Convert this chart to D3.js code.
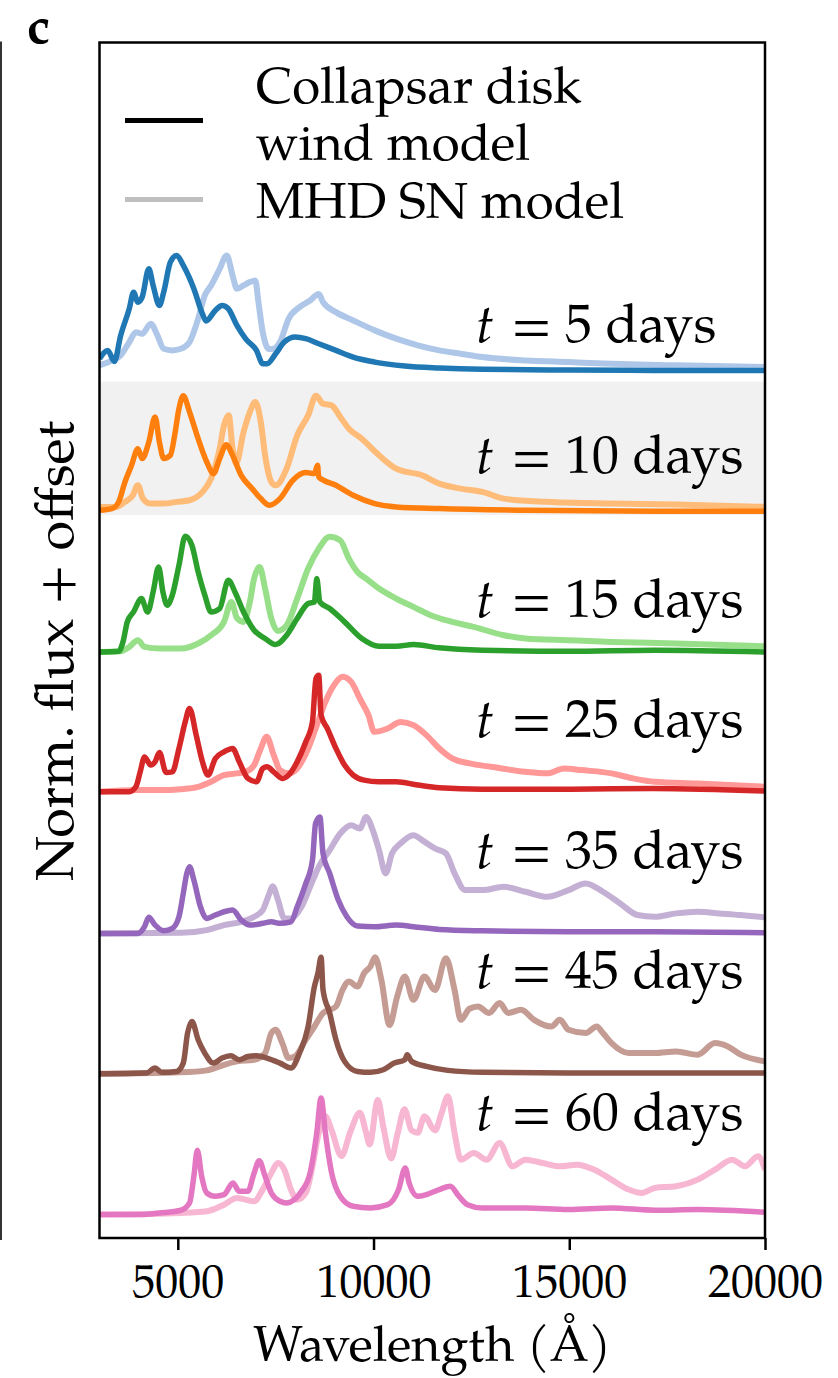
<!DOCTYPE html>
<html>
<head>
<meta charset="utf-8">
<script src="https://cdn.jsdelivr.net/npm/d3@7"></script>
<style>
  html, body { margin: 0; padding: 0; background: #fff; }
  svg { display: block; }
  text { font-family: "P052", "TeX Gyre Pagella", "Palatino Linotype", Palatino, "DejaVu Serif", serif; fill: #000; }
</style>
</head>
<body>
<svg id="chart" width="838" height="1378"></svg>
<script>
// Epochs (days after explosion) and the vertical offset applied to each pair of spectra
const epochs = [5, 10, 15, 25, 35, 45, 60];
const offsets = [7.2, 6.0, 4.8, 3.6, 2.4, 1.2, 0.0];
const highlightBand = [5.98, 7.12];

// Tick labels of the wavelength axis
const xTicks = [5000, 10000, 15000, 20000];

// Collapsar disk wind model spectra: [wavelength (Å), normalised flux]
const disk5 = [[3000,0.117],[3210,0.188],[3380,0.094],[3540,0.316],[3760,0.544],[3870,0.686],[3980,0.600],[4090,0.643],[4260,0.885],[4370,0.743],[4530,0.572],[4640,0.686],[4810,0.942],[4970,1.0],[5140,0.914],[5410,0.715],[5630,0.50],[5720,0.44],[5960,0.530],[6130,0.572],[6290,0.544],[6510,0.401],[6730,0.288],[7010,0.188],[7170,0.074],[7280,0.074],[7500,0.159],[7720,0.259],[8000,0.302],[8270,0.288],[8600,0.245],[9040,0.188],[9480,0.131],[10030,0.088],[10800,0.054],[11680,0.037],[12780,0.026],[14980,0.020],[17180,0.017],[20000,0.017]];
const disk10 = [[3000,0.021],[3320,0.036],[3490,0.093],[3650,0.263],[3820,0.406],[3980,0.548],[4090,0.463],[4260,0.605],[4420,0.819],[4530,0.605],[4640,0.463],[4810,0.491],[4920,0.662],[5030,0.890],[5140,1.0],[5300,0.861],[5520,0.633],[5740,0.434],[5910,0.335],[6070,0.463],[6240,0.582],[6400,0.491],[6620,0.320],[6900,0.206],[7120,0.121],[7340,0.064],[7610,0.121],[7940,0.278],[8270,0.343],[8490,0.335],[8570,0.406],[8600,0.306],[9040,0.235],[9480,0.149],[10030,0.078],[10580,0.050],[11680,0.036],[13880,0.021],[17180,0.013],[20000,0.013]];
const disk15 = [[3000,0.010],[3490,0.016],[3600,0.096],[3710,0.267],[3870,0.352],[4070,0.466],[4230,0.352],[4370,0.523],[4510,0.736],[4620,0.523],[4730,0.409],[4860,0.495],[5030,0.751],[5190,1.0],[5360,0.922],[5520,0.694],[5690,0.495],[5850,0.352],[6070,0.381],[6290,0.623],[6460,0.523],[6680,0.352],[6950,0.196],[7230,0.125],[7500,0.073],[7780,0.153],[8050,0.296],[8330,0.424],[8490,0.437],[8550,0.637],[8630,0.437],[8880,0.381],[9260,0.267],[9700,0.125],[10140,0.059],[10580,0.059],[11020,0.073],[11680,0.045],[12780,0.025],[14980,0.016],[17180,0.025],[20000,0.010]];
const disk25 = [[3000,0.015],[3760,0.015],[3930,0.057],[4040,0.185],[4150,0.313],[4310,0.243],[4420,0.271],[4530,0.351],[4700,0.180],[4860,0.185],[5030,0.385],[5190,0.613],[5300,0.727],[5470,0.499],[5630,0.271],[5770,0.157],[5960,0.300],[6180,0.356],[6400,0.385],[6570,0.271],[6790,0.129],[7010,0.100],[7170,0.214],[7280,0.228],[7450,0.185],[7680,0.129],[7830,0.157],[8050,0.271],[8270,0.442],[8440,0.613],[8530,0.983],[8600,1.011],[8660,0.670],[8820,0.556],[9040,0.385],[9260,0.243],[9480,0.157],[9760,0.114],[10140,0.100],[10580,0.100],[11130,0.072],[11680,0.049],[12780,0.037],[14980,0.037],[17180,0.043],[20000,0.021]];
const disk35 = [[3000,0.004],[3980,0.004],[4150,0.061],[4260,0.141],[4420,0.075],[4640,0.026],[4860,0.047],[5030,0.146],[5140,0.346],[5230,0.517],[5300,0.573],[5410,0.460],[5580,0.231],[5740,0.132],[5960,0.161],[6180,0.189],[6400,0.203],[6620,0.118],[6840,0.075],[7170,0.090],[7390,0.103],[7610,0.090],[7890,0.103],[8050,0.231],[8270,0.431],[8440,0.630],[8520,0.944],[8630,1.0],[8710,0.687],[8880,0.517],[9100,0.289],[9320,0.146],[9590,0.067],[10030,0.061],[10580,0.075],[11020,0.061],[11680,0.038],[12780,0.026],[14980,0.018],[17180,0.018],[20000,0.009]];
const disk45 = [[3000,0.004],[4200,0.010],[4420,0.053],[4590,0.016],[4970,0.024],[5140,0.095],[5250,0.352],[5360,0.451],[5520,0.295],[5690,0.181],[5910,0.095],[6130,0.138],[6350,0.158],[6570,0.124],[6790,0.152],[7010,0.158],[7280,0.138],[7610,0.095],[7890,0.053],[8110,0.181],[8330,0.408],[8490,0.750],[8580,0.864],[8660,1.0],[8710,0.722],[8880,0.523],[9040,0.295],[9260,0.110],[9590,0.024],[9920,0.016],[10250,0.038],[10530,0.095],[10800,0.124],[10860,0.167],[10970,0.110],[11350,0.067],[11900,0.033],[12780,0.016],[14980,0.010],[17180,0.010],[20000,0.010]];
const disk60 = [[3000,0.000],[4080,0.000],[4530,0.014],[5080,0.037],[5300,0.100],[5410,0.327],[5500,0.550],[5610,0.327],[5740,0.185],[5960,0.157],[6180,0.171],[6410,0.270],[6570,0.199],[6790,0.199],[6950,0.356],[7080,0.460],[7230,0.327],[7390,0.185],[7610,0.114],[7780,0.100],[8160,0.199],[8380,0.356],[8550,0.698],[8660,0.997],[8770,0.698],[8930,0.356],[9150,0.157],[9480,0.071],[9920,0.057],[10360,0.085],[10640,0.214],[10810,0.399],[10910,0.270],[11130,0.157],[11350,0.171],[11680,0.214],[11960,0.242],[12180,0.157],[12400,0.085],[12780,0.057],[13880,0.057],[14980,0.043],[16080,0.057],[17180,0.037],[18280,0.043],[20000,0.020]];

// MHD supernova model spectra: [wavelength (Å), normalised flux]
const mhd5 = [[3000,0.060],[3320,0.102],[3540,0.145],[3760,0.259],[3930,0.344],[4090,0.330],[4310,0.416],[4480,0.316],[4640,0.202],[4860,0.188],[5080,0.202],[5300,0.259],[5520,0.458],[5690,0.658],[5850,0.743],[6070,0.885],[6250,1.0],[6400,0.828],[6510,0.715],[6680,0.743],[6840,0.772],[6980,0.786],[7060,0.600],[7170,0.344],[7330,0.200],[7450,0.202],[7610,0.259],[7830,0.458],[8110,0.558],[8380,0.615],[8600,0.670],[8710,0.600],[9040,0.515],[9480,0.444],[10030,0.359],[10580,0.288],[11130,0.231],[11680,0.188],[12230,0.159],[12780,0.131],[13880,0.102],[14980,0.088],[16080,0.074],[17730,0.060],[20000,0.046]];
const mhd10 = [[3000,0.050],[3430,0.050],[3650,0.093],[3850,0.149],[3980,0.235],[4110,0.121],[4310,0.078],[4640,0.078],[4970,0.093],[5300,0.107],[5630,0.178],[5850,0.292],[6070,0.548],[6180,0.747],[6300,0.833],[6400,0.548],[6490,0.420],[6680,0.690],[6840,0.861],[6980,0.947],[7120,0.776],[7230,0.491],[7390,0.263],[7500,0.235],[7780,0.377],[8050,0.662],[8330,0.833],[8530,1.0],[8710,0.932],[8930,0.918],[9150,0.819],[9370,0.719],[9700,0.633],[10140,0.491],[10580,0.377],[11240,0.320],[11680,0.249],[12230,0.206],[12780,0.178],[13330,0.121],[14430,0.093],[16080,0.078],[17730,0.070],[20000,0.050]];
const mhd15 = [[3000,0.010],[3540,0.016],[3760,0.053],[3980,0.110],[4150,0.053],[4530,0.039],[5080,0.039],[5520,0.082],[5850,0.153],[6180,0.267],[6370,0.437],[6510,0.300],[6680,0.267],[6840,0.437],[6950,0.637],[7090,0.736],[7230,0.552],[7390,0.296],[7550,0.190],[7780,0.238],[8050,0.466],[8330,0.723],[8600,0.893],[8880,0.995],[9150,0.964],[9370,0.808],[9590,0.694],[9810,0.637],[10140,0.552],[10580,0.466],[11020,0.395],[11460,0.324],[12010,0.267],[12560,0.224],[13330,0.153],[13880,0.125],[14980,0.110],[16080,0.096],[17730,0.082],[20000,0.059]];
const mhd25 = [[3000,0.015],[3980,0.029],[4530,0.029],[5080,0.037],[5520,0.057],[5850,0.100],[6180,0.157],[6510,0.172],[6730,0.185],[6950,0.243],[7120,0.385],[7270,0.484],[7450,0.328],[7610,0.200],[7830,0.172],[8050,0.214],[8330,0.385],[8550,0.584],[8770,0.783],[8990,0.926],[9210,0.997],[9430,0.954],[9650,0.812],[9870,0.670],[10020,0.527],[10360,0.556],[10690,0.612],[11020,0.584],[11350,0.499],[11680,0.385],[12010,0.300],[12450,0.257],[13000,0.228],[13880,0.185],[14430,0.172],[14870,0.214],[15310,0.200],[16080,0.172],[16630,0.129],[17180,0.100],[18280,0.086],[20000,0.057]];
const mhd35 = [[3000,0.004],[5080,0.009],[5740,0.032],[6180,0.075],[6620,0.103],[6950,0.146],[7170,0.203],[7340,0.346],[7420,0.408],[7560,0.289],[7720,0.132],[7890,0.132],[8160,0.231],[8380,0.402],[8600,0.573],[8880,0.716],[9150,0.858],[9430,0.929],[9650,0.901],[9810,1.0],[9980,0.887],[10140,0.716],[10310,0.517],[10470,0.687],[10690,0.773],[11020,0.844],[11240,0.801],[11570,0.730],[11850,0.687],[12070,0.517],[12340,0.374],[12780,0.374],[13330,0.402],[13880,0.360],[14430,0.317],[14980,0.374],[15420,0.431],[15860,0.360],[16300,0.260],[16740,0.161],[17180,0.146],[17730,0.175],[18280,0.189],[18830,0.175],[19380,0.161],[20000,0.141]];
const mhd45 = [[3000,0.004],[5080,0.016],[5740,0.033],[6180,0.081],[6510,0.110],[6950,0.124],[7230,0.181],[7390,0.352],[7500,0.380],[7670,0.266],[7830,0.138],[7990,0.152],[8270,0.295],[8490,0.408],[8710,0.523],[8880,0.551],[9040,0.579],[9210,0.722],[9370,0.793],[9590,0.750],[9760,0.864],[9920,0.921],[10040,1.0],[10200,0.807],[10410,0.420],[10600,0.660],[10800,0.835],[11020,0.636],[11300,0.835],[11570,0.720],[11850,0.992],[12070,0.720],[12230,0.465],[12450,0.560],[12670,0.579],[12950,0.523],[13220,0.608],[13440,0.523],[13770,0.551],[14100,0.465],[14540,0.408],[14760,0.465],[14980,0.380],[15420,0.352],[15700,0.408],[15860,0.352],[16080,0.266],[16520,0.181],[17180,0.181],[17730,0.195],[18280,0.167],[18720,0.266],[19050,0.237],[19380,0.167],[20000,0.110]];
const mhd60 = [[3000,0.000],[5080,0.014],[5740,0.028],[6180,0.085],[6510,0.142],[6730,0.128],[6950,0.114],[7170,0.214],[7390,0.356],[7560,0.441],[7720,0.384],[7890,0.214],[8050,0.128],[8270,0.185],[8440,0.413],[8600,0.700],[8770,0.840],[8930,0.720],[9180,0.500],[9400,0.700],[9650,0.870],[9810,0.700],[9900,0.600],[10110,0.980],[10250,0.750],[10450,0.480],[10620,0.700],[10790,0.900],[10970,0.720],[11130,0.700],[11300,0.840],[11570,0.720],[11740,0.870],[11900,1.011],[12070,0.698],[12230,0.470],[12560,0.527],[12890,0.470],[13220,0.612],[13550,0.413],[13880,0.470],[14320,0.441],[14760,0.413],[15200,0.427],[15640,0.384],[16080,0.299],[16520,0.214],[16850,0.185],[17180,0.228],[17730,0.242],[18280,0.299],[18720,0.384],[19160,0.470],[19490,0.413],[19820,0.498],[20000,0.384]];

// Line colours per epoch (tab10 shades for the disk wind model, tab20 tints for the MHD model)
const diskColors = ["#1f77b4", "#ff7f0e", "#2ca02c", "#d62728", "#9467bd", "#8c564b", "#e377c2"];
const mhdColors  = ["#aec7e8", "#ffbb78", "#98df8a", "#ff9896", "#c5b0d5", "#c49c94", "#f7b6d2"];

// Height of each epoch label above its spectrum baseline, in flux units
const labelRise = [0.256, 0.337, 0.306, 0.481, 0.562, 0.737, 0.723];

const diskSeries = [disk5, disk10, disk15, disk25, disk35, disk45, disk60];
const mhdSeries = [mhd5, mhd10, mhd15, mhd25, mhd35, mhd45, mhd60];

const spectra = epochs.map((day, i) => ({
  day, offset: offsets[i], disk: diskSeries[i], mhd: mhdSeries[i],
  diskColor: diskColors[i], mhdColor: mhdColors[i], rise: labelRise[i]
}));

// ---- layout ----
const plot = { left: 99.5, right: 765, top: 42.5, bottom: 1238 };

const svg = d3.select("#chart");

const x = d3.scaleLinear().domain([3000, 20000]).range([plot.left, plot.right]);
const y = d3.scaleLinear().domain([-0.2, 10.02]).range([plot.bottom, plot.top]);

svg.append("defs").append("clipPath").attr("id", "plot-clip")
  .append("rect")
  .attr("x", plot.left).attr("y", plot.top)
  .attr("width", plot.right - plot.left).attr("height", plot.bottom - plot.top);

// right edge of the neighbouring panel
svg.append("line")
  .attr("x1", 1).attr("x2", 1).attr("y1", plot.top - 1).attr("y2", plot.bottom + 2)
  .attr("stroke", "#333").attr("stroke-width", 2);

// panel letter
svg.append("text")
  .attr("x", 27).attr("y", 43)
  .attr("font-size", 52).attr("font-weight", "bold")
  .text("c");

const body = svg.append("g").attr("clip-path", "url(#plot-clip)");

// shaded band behind the highlighted epoch
body.append("rect")
  .attr("x", plot.left).attr("width", plot.right - plot.left)
  .attr("y", y(highlightBand[1]))
  .attr("height", y(highlightBand[0]) - y(highlightBand[1]))
  .attr("fill", "#f1f1f1");

const lineFor = offset => d3.line()
  .curve(d3.curveMonotoneX)
  .x(d => x(d[0]))
  .y(d => y(d[1] + offset));

spectra.forEach(s => {
  const g = body.append("g");
  g.append("path")
    .attr("d", lineFor(s.offset)(s.mhd))
    .attr("fill", "none").attr("stroke", s.mhdColor)
    .attr("stroke-width", 6).attr("stroke-linejoin", "round");
  g.append("path")
    .attr("d", lineFor(s.offset)(s.disk))
    .attr("fill", "none").attr("stroke", s.diskColor)
    .attr("stroke-width", 5.5).attr("stroke-linejoin", "round");
});

// epoch labels
spectra.forEach(s => {
  const t = svg.append("text")
    .attr("x", 476).attr("y", y(s.offset + s.rise))
    .attr("font-size", 54);
  t.append("tspan").attr("font-style", "italic").text("t");
  t.append("tspan").attr("dx", 17).text("=");
  t.append("tspan").attr("dx", 13).text(`${s.day} days`);
});

// legend
const legend = [
  { lines: ["Collapsar disk", "wind model"], color: "#000", yLine: 120.5, yText: [103, 160] },
  { lines: ["MHD SN model"], color: "#bfbfbf", yLine: 199.5, yText: [218] }
];
legend.forEach(l => {
  svg.append("line")
    .attr("x1", 125).attr("x2", 203).attr("y1", l.yLine).attr("y2", l.yLine)
    .attr("stroke", l.color).attr("stroke-width", 5);
  l.lines.forEach((txt, k) => {
    svg.append("text").attr("x", 256).attr("y", l.yText[k])
      .attr("font-size", 51).text(txt);
  });
});

// frame
svg.append("rect")
  .attr("x", plot.left).attr("y", plot.top)
  .attr("width", plot.right - plot.left).attr("height", plot.bottom - plot.top)
  .attr("fill", "none").attr("stroke", "#000").attr("stroke-width", 2.5);

// wavelength axis
const xAxis = d3.axisBottom(x).tickValues(xTicks).tickFormat(d3.format("d")).tickSize(12).tickPadding(8);
const ax = svg.append("g").attr("transform", `translate(0,${plot.bottom})`).call(xAxis);
ax.select(".domain").remove();
ax.attr("font-family", null).attr("font-size", null);
ax.selectAll(".tick line").attr("stroke", "#000").attr("stroke-width", 2.5);
ax.selectAll(".tick text")
  .attr("font-size", 46).attr("fill", "#000")
  .attr("dy", null).attr("y", 59);

svg.append("text")
  .attr("x", (plot.left + plot.right) / 2).attr("y", 1361)
  .attr("text-anchor", "middle").attr("font-size", 50)
  .text("Wavelength (Å)");

svg.append("text")
  .attr("transform", `translate(73,651) rotate(-90)`)
  .attr("text-anchor", "middle").attr("font-size", 54)
  .text("Norm. flux + offset");
</script>
</body>
</html>
